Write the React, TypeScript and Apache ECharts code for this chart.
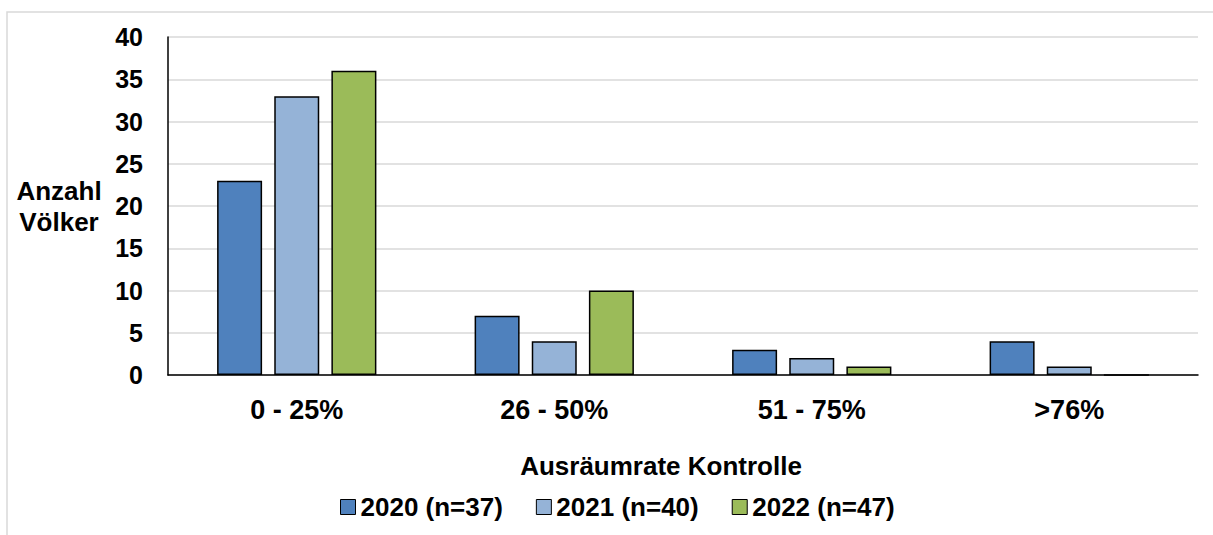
import React, { useEffect, useRef } from "react";
import * as echarts from "echarts";

const categories = ["0 - 25%", "26 - 50%", "51 - 75%", ">76%"];
const seriesNames = ["2020 (n=37)", "2021 (n=40)", "2022 (n=47)"];
const values2020 = [23, 7, 3, 4];
const values2021 = [33, 4, 2, 1];
const values2022 = [36, 10, 1, 0];
const colors = ["#4F81BD", "#95B3D7", "#9BBB59"];
const yTicks = { min: 0, max: 40, interval: 5 };

export default function App() {
  const ref = useRef<HTMLDivElement>(null);
  useEffect(() => {
    if (!ref.current) return;
    const chart = echarts.init(ref.current, null, { renderer: "svg" });
    const font = "'Liberation Sans', Arial, sans-serif";
    const data = [values2020, values2021, values2022];
    chart.setOption({
      animation: false,
      backgroundColor: "#ffffff",
      textStyle: { fontFamily: font },
      graphic: [
        {
          type: "rect",
          shape: { x: 7, y: 12, width: 1230, height: 560 },
          style: { fill: "none", stroke: "#d9d9d9", lineWidth: 1.5 },
          silent: true,
        },
        {
          type: "text",
          x: 59,
          y: 206,
          style: {
            text: "Anzahl\nVölker",
            fontFamily: font,
            fontWeight: "bold",
            fontSize: 26,
            lineHeight: 31,
            fill: "#000",
            align: "center",
            verticalAlign: "middle",
          },
        },
      ],
      legend: {
        data: seriesNames,
        top: 489,
        left: 335,
        itemWidth: 15,
        itemHeight: 15,
        itemGap: 33,
        icon: "rect",
        itemStyle: { borderColor: "#000", borderWidth: 1 },
        textStyle: {
          fontFamily: font,
          fontWeight: "bold",
          fontSize: 26,
          color: "#000",
        },
      },
      grid: { left: 168, right: 15, top: 37, bottom: 160, containLabel: false },
      xAxis: {
        type: "category",
        data: categories,
        axisLine: { lineStyle: { color: "#000", width: 1.5 } },
        axisTick: { show: false },
        axisLabel: {
          fontFamily: font,
          fontWeight: "bold",
          fontSize: 27,
          color: "#000",
          margin: 21,
        },
        name: "Ausräumrate Kontrolle",
        nameLocation: "middle",
        nameGap: 78,
        nameTextStyle: {
          fontFamily: font,
          fontWeight: "bold",
          fontSize: 26,
          color: "#000",
          padding: [0, 44, 0, 0],
        },
      },
      yAxis: {
        type: "value",
        min: yTicks.min,
        max: yTicks.max,
        interval: yTicks.interval,
        axisLine: { show: true, lineStyle: { color: "#000", width: 1.5 } },
        axisTick: { show: false },
        splitLine: { lineStyle: { color: "#d9d9d9", width: 1.5 } },
        axisLabel: {
          fontFamily: font,
          fontWeight: "bold",
          fontSize: 25,
          color: "#000",
          margin: 25,
        },
      },
      series: seriesNames.map((name, i) => ({
        name,
        type: "bar",
        data: data[i],
        barWidth: 45,
        barGap: "27%",
        itemStyle: { color: colors[i], borderColor: "#000", borderWidth: 1.5 },
      })),
    });
    return () => chart.dispose();
  }, []);
  return (
    <div
      ref={ref}
      style={{ position: "absolute", left: 0, top: 0, width: 1213, height: 535 }}
    />
  );
}
